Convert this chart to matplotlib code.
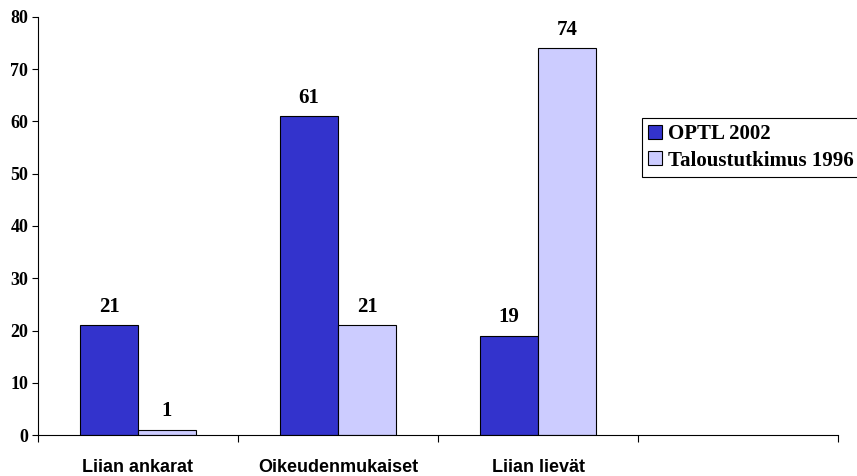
import numpy as np
import matplotlib
matplotlib.use('Agg')
from matplotlib import pyplot as plt

# data
categories = ['Liian ankarat', 'Oikeudenmukaiset', 'Liian lievät', '']
optl_2002 = [21, 61, 19]
talous_1996 = [1, 21, 74]
series_names = ['OPTL 2002', 'Taloustutkimus 1996']
colors = ['#3333CC', '#CCCCFF']
y_ticks = [0, 10, 20, 30, 40, 50, 60, 70, 80]

fig = plt.figure(figsize=(8.57, 4.76), dpi=100)
ax = fig.add_axes([38/857, 41/476, 800/857, 418/476])

w = 0.29
x = np.arange(len(optl_2002))
b1 = ax.bar(x - w/2, optl_2002, w, color=colors[0], edgecolor='black', linewidth=0.8,
            label=series_names[0])
b2 = ax.bar(x + w/2, talous_1996, w, color=colors[1], edgecolor='black', linewidth=0.8,
            label=series_names[1])

serif = 'Liberation Serif'
for bars in (b1, b2):
    ax.bar_label(bars, padding=6, fontsize=15, fontweight='bold', family=serif)

ax.set_xlim(-0.5, len(categories) - 0.5)
ax.set_ylim(0, 80)
ax.set_yticks(y_ticks)
ax.set_yticklabels([str(t) for t in y_ticks], fontsize=13, fontweight='bold', family=serif)

# ticks sit between categories, labels in the middle
ax.set_xticks(np.arange(len(categories) + 1) - 0.5)
ax.set_xticklabels([])
ax.set_xticks(np.arange(len(categories)), minor=True)
ax.set_xticklabels(categories, minor=True, fontsize=13, fontweight='bold',
                   family='Liberation Sans')
ax.tick_params(axis='x', which='minor', length=0, pad=17)
ax.tick_params(axis='x', which='major', length=5, direction='out', width=0.8)
ax.tick_params(axis='y', length=4, width=0.8, pad=3)

for s in ['top', 'right']:
    ax.spines[s].set_visible(False)
ax.spines['left'].set_linewidth(0.8)
ax.spines['bottom'].set_linewidth(0.8)

leg = fig.legend(loc='upper left', bbox_to_anchor=(642/857, 1 - 118/476),
                 prop={'family': serif, 'weight': 'bold', 'size': 15},
                 handlelength=0.65, handleheight=0.65, handletextpad=0.3,
                 borderpad=0.3, labelspacing=0.3, borderaxespad=0,
                 fancybox=False, framealpha=1, edgecolor='black')
leg.get_frame().set_linewidth(0.8)

fig.savefig('out.png', dpi=100)
